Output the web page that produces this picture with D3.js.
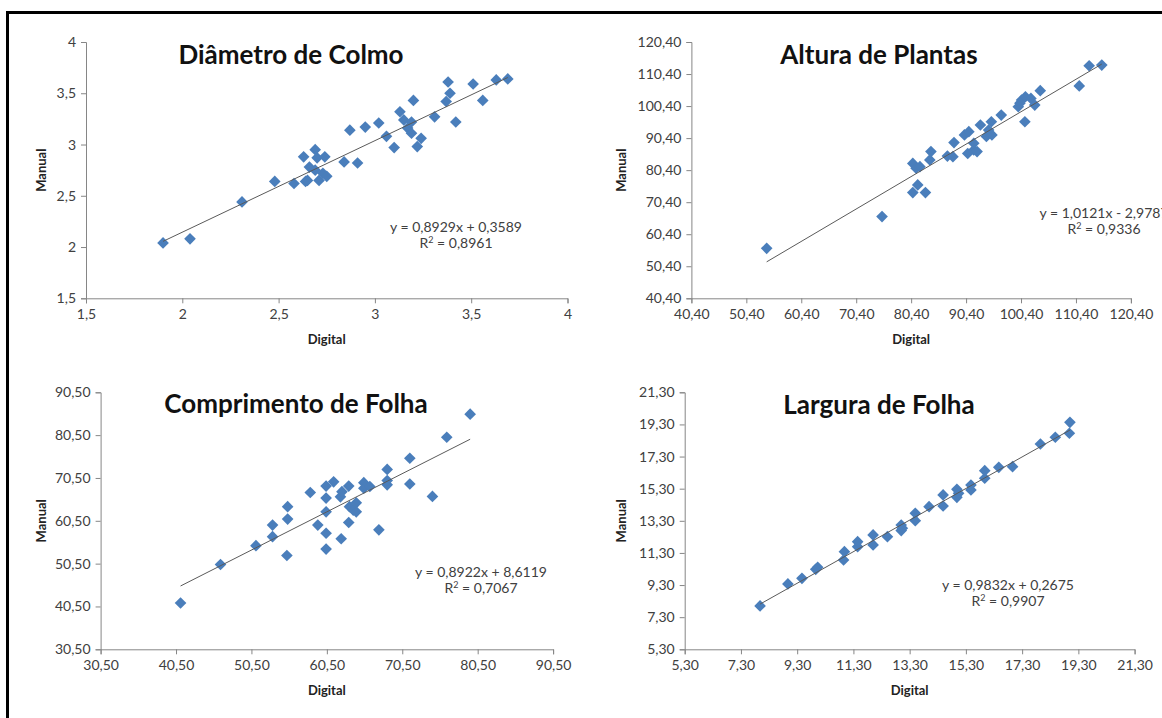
<!DOCTYPE html>
<html>
<head>
<meta charset="utf-8">
<script src="https://cdn.jsdelivr.net/npm/d3@7"></script>
<style>
  body { margin: 0; background: #fff; }
  svg { display: block; font-family: Lato, "Open Sans", sans-serif; }
</style>
</head>
<body>
<svg id="chart" width="1162" height="718"></svg>
<script>
// ---- Diâmetro de Colmo ----
const colmoDigital = [1.90, 2.04, 2.31, 2.48, 2.58, 2.64, 2.63, 2.66, 2.69, 2.70, 2.71, 2.74, 2.73, 2.75, 2.65, 2.69,
  2.84, 2.87, 2.91, 2.95, 3.02, 3.06, 3.10, 3.13, 3.15, 3.17, 3.19, 3.20, 3.19, 3.22, 3.24, 3.31, 3.38, 3.37, 3.39,
  3.42, 3.51, 3.56, 3.63, 3.69];
const colmoManual = [2.04, 2.08, 2.44, 2.64, 2.62, 2.64, 2.88, 2.78, 2.95, 2.87, 2.65, 2.88, 2.72, 2.69, 2.65, 2.75,
  2.83, 3.14, 2.82, 3.17, 3.21, 3.08, 2.97, 3.32, 3.24, 3.16, 3.22, 3.43, 3.11, 2.98, 3.06, 3.27, 3.61, 3.42, 3.50,
  3.22, 3.59, 3.43, 3.63, 3.64];
const colmoTicks = [1.5, 2, 2.5, 3, 3.5, 4];
const colmoFit = { slope: 0.8929, intercept: 0.3589, r2: "0,8961", equation: "y = 0,8929x + 0,3589" };

// ---- Altura de Plantas ----
const alturaDigital = [54.1, 75.1, 80.7, 81.6, 83.0, 80.7, 81.3, 82.0, 83.8, 84.0, 87.0, 88.0, 88.2, 90.1, 90.9,
  90.7, 91.8, 91.8, 92.4, 93.0, 94.1, 94.5, 95.1, 95.0, 96.8, 99.9, 100.5, 101.2, 102.2, 101.1, 102.9, 103.9, 100.2,
  111.0, 112.8, 115.1];
const alturaManual = [56.0, 65.9, 73.4, 75.8, 73.4, 82.5, 81.0, 81.5, 83.6, 86.2, 84.8, 84.6, 89.0, 91.4, 92.4,
  85.6, 86.7, 88.8, 86.2, 94.5, 90.9, 92.9, 91.4, 95.5, 97.6, 100.2, 102.3, 103.3, 102.8, 95.5, 100.7, 105.2, 101.3,
  106.7, 113.0, 113.2];
const alturaTicks = [40.4, 50.4, 60.4, 70.4, 80.4, 90.4, 100.4, 110.4, 120.4];
const alturaFit = { slope: 1.0121, intercept: -2.9787, r2: "0,9336", equation: "y = 1,0121x - 2,9787" };

// ---- Comprimento de Folha ----
const comprimentoDigital = [41.1, 46.4, 51.1, 53.3, 53.3, 55.2, 55.3, 55.3, 58.3, 59.3, 60.4, 60.4, 60.4, 60.4,
  60.4, 61.4, 62.4, 62.3, 62.5, 63.4, 63.4, 63.5, 64.0, 64.4, 64.4, 65.4, 65.4, 66.2, 67.4, 68.5, 68.5, 68.5, 71.5,
  71.5, 74.5, 76.4, 79.5];
const comprimentoManual = [41.3, 50.3, 54.7, 56.8, 59.5, 52.4, 60.9, 63.8, 67.1, 59.5, 53.9, 57.6, 62.6, 65.8,
  68.6, 69.6, 56.3, 66.1, 67.3, 60.1, 68.6, 63.8, 63.0, 64.7, 62.6, 69.4, 68.1, 68.5, 58.4, 72.5, 68.9, 69.9, 75.1,
  69.1, 66.2, 80.0, 85.4];
const comprimentoTicks = [30.5, 40.5, 50.5, 60.5, 70.5, 80.5, 90.5];
const comprimentoFit = { slope: 0.8922, intercept: 8.6119, r2: "0,7067", equation: "y = 0,8922x + 8,6119" };

// ---- Largura de Folha ----
const larguraDigital = [7.98, 8.97, 9.47, 9.96, 10.03, 10.95, 10.98, 11.45, 11.45, 12.0, 12.0, 12.51, 13.0, 13.0,
  13.04, 13.5, 13.5, 13.99, 14.49, 14.49, 14.98, 14.98, 15.04, 15.48, 15.48, 15.97, 15.97, 16.47, 16.96, 17.95,
  18.48, 18.98, 19.0];
const larguraManual = [8.0, 9.37, 9.72, 10.28, 10.41, 10.86, 11.38, 11.69, 12.0, 11.8, 12.42, 12.31, 12.69, 13.04,
  12.84, 13.31, 13.77, 14.18, 14.22, 14.91, 14.76, 15.26, 15.01, 15.22, 15.53, 15.95, 16.42, 16.63, 16.67, 18.08,
  18.5, 18.75, 19.43];
const larguraTicks = [5.3, 7.3, 9.3, 11.3, 13.3, 15.3, 17.3, 19.3, 21.3];
const larguraFit = { slope: 0.9832, intercept: 0.2675, r2: "0,9907", equation: "y = 0,9832x + 0,2675" };

// Panel layout (plot-area rectangles and annotation anchors, in px)
const panels = [
  { title: "Diâmetro de Colmo", xs: colmoDigital, ys: colmoManual, ticks: colmoTicks, fit: colmoFit,
    decimals: null, left: 86, right: 567.5, top: 42, bottom: 298.3,
    titleX: 291, titleY: 64, eqX: 456, eqY: 232, yLabelX: 41 },
  { title: "Altura de Plantas", xs: alturaDigital, ys: alturaManual, ticks: alturaTicks, fit: alturaFit,
    decimals: 2, left: 691.4, right: 1130.9, top: 42, bottom: 298.3,
    titleX: 879, titleY: 64, eqX: 1104, eqY: 218, yLabelX: 621 },
  { title: "Comprimento de Folha", xs: comprimentoDigital, ys: comprimentoManual, ticks: comprimentoTicks,
    fit: comprimentoFit, decimals: 2, left: 100.6, right: 553.1, top: 392.3, bottom: 649.3,
    titleX: 296, titleY: 413, eqX: 481, eqY: 577, yLabelX: 41 },
  { title: "Largura de Folha", xs: larguraDigital, ys: larguraManual, ticks: larguraTicks, fit: larguraFit,
    decimals: 2, left: 684.7, right: 1134.6, top: 392.3, bottom: 649.3,
    titleX: 879, titleY: 414, eqX: 1008, eqY: 590, yLabelX: 621 }
];

const svg = d3.select("#chart");
const axisColor = "#868686";
const labelColor = "#404040";
const markerColor = "#4A7EBB";

// Decimal comma tick labels
function fmt(decimals) {
  return v => (decimals == null ? String(+v.toFixed(2)) : v.toFixed(decimals)).replace(".", ",");
}

const diamond = d3.symbol().type(d3.symbolSquare).size(68);

panels.forEach(p => {
  const x = d3.scaleLinear().domain(d3.extent(p.ticks)).range([p.left, p.right]);
  const y = d3.scaleLinear().domain(d3.extent(p.ticks)).range([p.bottom, p.top]);
  const g = svg.append("g");

  // axes
  const xAxis = d3.axisBottom(x).tickValues(p.ticks).tickFormat(fmt(p.decimals)).tickSize(5).tickPadding(6);
  const yAxis = d3.axisLeft(y).tickValues(p.ticks).tickFormat(fmt(p.decimals)).tickSize(5).tickPadding(5);
  [[xAxis, `translate(0,${p.bottom})`], [yAxis, `translate(${p.left},0)`]].forEach(([ax, tr]) => {
    const a = g.append("g").attr("transform", tr).call(ax);
    a.select(".domain").attr("stroke", axisColor).attr("stroke-width", 1);
    a.selectAll(".tick line").attr("stroke", axisColor);
    a.selectAll(".tick text").attr("fill", labelColor).attr("font-size", 14).attr("font-family", "Lato, sans-serif");
  });

  // markers
  const pts = p.xs.map((v, i) => [v, p.ys[i]]);
  g.append("g").selectAll("path").data(pts).join("path")
    .attr("d", diamond)
    .attr("transform", d => `translate(${x(d[0])},${y(d[1])}) rotate(45)`)
    .attr("fill", markerColor);

  // linear trendline across the data range
  const [x0, x1] = d3.extent(p.xs);
  g.append("line")
    .attr("x1", x(x0)).attr("y1", y(p.fit.slope * x0 + p.fit.intercept))
    .attr("x2", x(x1)).attr("y2", y(p.fit.slope * x1 + p.fit.intercept))
    .attr("stroke", "#5a5a5a").attr("stroke-width", 1);

  // title
  g.append("text").attr("x", p.titleX).attr("y", p.titleY).attr("text-anchor", "middle")
    .attr("font-size", 26).attr("font-weight", 700).attr("fill", "#111").text(p.title);

  // equation and R²
  g.append("text").attr("x", p.eqX).attr("y", p.eqY).attr("text-anchor", "middle")
    .attr("font-size", 14).attr("fill", labelColor).text(p.fit.equation);
  const r = g.append("text").attr("x", p.eqX).attr("y", p.eqY + 16).attr("text-anchor", "middle")
    .attr("font-size", 14).attr("fill", labelColor);
  r.append("tspan").text("R");
  r.append("tspan").attr("dy", -5).attr("font-size", 9).text("2");
  r.append("tspan").attr("dy", 5).text(" = " + p.fit.r2);

  // axis titles
  g.append("text").attr("x", (p.left + p.right) / 2).attr("y", p.bottom + 46).attr("text-anchor", "middle")
    .attr("font-size", 13).attr("font-weight", 700).attr("fill", "#222").text("Digital");
  g.append("text").attr("transform", `translate(${p.yLabelX},${(p.top + p.bottom) / 2}) rotate(-90)`)
    .attr("text-anchor", "middle").attr("dy", "0.35em")
    .attr("font-size", 13).attr("font-weight", 700).attr("fill", "#222").text("Manual");
});

// page frame: heavy rule along the top and left edges
svg.append("line").attr("x1", 6).attr("x2", 1162).attr("y1", 12.5).attr("y2", 12.5)
  .attr("stroke", "#000").attr("stroke-width", 3);
svg.append("line").attr("x1", 7.5).attr("x2", 7.5).attr("y1", 11).attr("y2", 718)
  .attr("stroke", "#000").attr("stroke-width", 3);
</script>
</body>
</html>
